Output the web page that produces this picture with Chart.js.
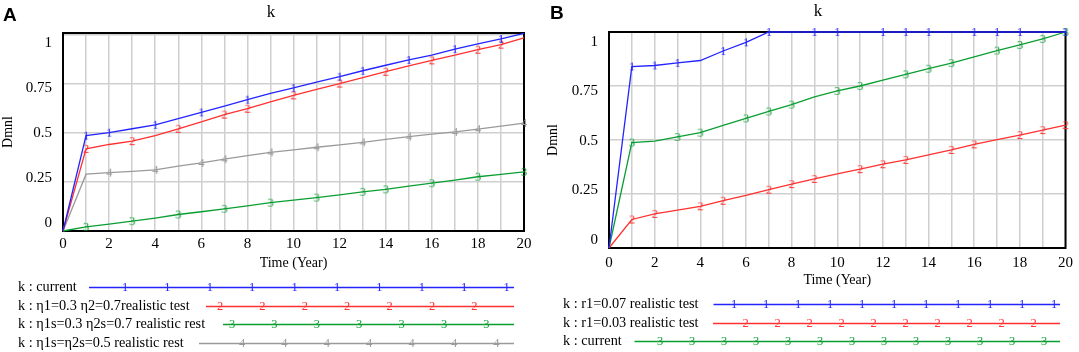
<!DOCTYPE html>
<html>
<head>
<meta charset="utf-8">
<script src="https://cdn.jsdelivr.net/npm/chart.js@4.4.1/dist/chart.umd.min.js"></script>
<style>
    html, body { margin: 0; padding: 0; background: #fff; }
    #wrap { position: relative; width: 1079px; height: 352px; }
    .panel { position: absolute; top: 0; height: 352px; }
    #pa { left: 0; width: 540px; }
    #pb { left: 540px; width: 539px; }
</style>
</head>
<body>
<div id="wrap">
    <div class="panel" id="pa"><canvas id="chartA"></canvas></div>
    <div class="panel" id="pb"><canvas id="chartB"></canvas></div>
</div>
<script>
// Time axis (Year)
const years = [0, 1, 2, 3, 4, 5, 6, 7, 8, 9, 10, 11, 12, 13, 14, 15, 16, 17, 18, 19, 20];
const yTicks = [0, 0.25, 0.5, 0.75, 1];

// Panel A series
const aCurrent = [0, 0.485, 0.50, 0.52, 0.54, 0.572, 0.603, 0.635, 0.668, 0.70, 0.728, 0.757, 0.785, 0.815, 0.843, 0.870, 0.895, 0.925, 0.952, 0.977, 1.005];
const aEta = [0, 0.418, 0.44, 0.457, 0.485, 0.52, 0.555, 0.592, 0.622, 0.657, 0.69, 0.72, 0.75, 0.78, 0.81, 0.84, 0.868, 0.895, 0.922, 0.948, 0.982];
const aEtaS = [0, 0.021, 0.035, 0.05, 0.066, 0.084, 0.098, 0.113, 0.128, 0.144, 0.157, 0.17, 0.184, 0.199, 0.212, 0.228, 0.243, 0.259, 0.276, 0.288, 0.301];
const aEqual = [0, 0.289, 0.297, 0.303, 0.311, 0.33, 0.346, 0.365, 0.383, 0.40, 0.413, 0.426, 0.438, 0.451, 0.466, 0.48, 0.493, 0.504, 0.518, 0.533, 0.549];

// Panel B series
const bR07 = [0, 0.84, 0.845, 0.857, 0.868, 0.912, 0.952, 1, 1, 1, 1, 1, 1, 1, 1, 1, 1, 1, 1, 1, 1];
const bR03 = [0, 0.132, 0.158, 0.175, 0.193, 0.219, 0.244, 0.27, 0.296, 0.32, 0.343, 0.365, 0.388, 0.408, 0.431, 0.454, 0.48, 0.502, 0.523, 0.546, 0.569];
const bCurrent = [0, 0.488, 0.495, 0.514, 0.534, 0.568, 0.60, 0.632, 0.664, 0.70, 0.727, 0.75, 0.777, 0.804, 0.83, 0.856, 0.885, 0.914, 0.94, 0.968, 1.0];

// Years where the numbered markers sit on each line
const aCurrentMarks = [1, 2, 4, 6, 8, 10, 12, 13, 15, 17, 19];
const aEtaMarks = [1, 3, 5, 7, 8, 10, 12, 14, 16, 18, 19];
const aEtaSMarks = [1, 3, 5, 7, 9, 11, 13, 14, 16, 18, 20];
const aEqualMarks = [2, 4, 6, 7, 9, 11, 13, 15, 17, 18, 20];
const bR07Marks = [1, 2, 3, 5, 6, 7, 9, 10, 12, 13, 14, 16, 17, 18, 20];
const bR03Marks = [1, 2, 4, 5, 7, 8, 9, 11, 12, 13, 15, 16, 18, 19, 20];
const bCurrentMarks = [1, 3, 4, 6, 7, 8, 10, 11, 13, 14, 15, 17, 18, 19, 20];

const SERIF = "'Liberation Serif', 'DejaVu Serif', serif";
const BLUE = '#2424ff';
const RED = '#ff3030';
const GREEN = '#0a9e32';
const GRAY = '#9a9a9a';
const GRID = '#cfcfcf';

// small digit glyphs used as point markers
const glyphCache = {};
function glyph(digit, color) {
    const key = digit + color;
    if (glyphCache[key]) return glyphCache[key];
    const c = document.createElement('canvas');
    c.width = 12; c.height = 14;
    const g = c.getContext('2d');
    g.fillStyle = color;
    g.font = '12.5px ' + SERIF;
    g.textAlign = 'center';
    g.textBaseline = 'middle';
    g.fillText(digit, 6, 7.5);
    glyphCache[key] = c;
    return c;
}

const framePlugin = {
    id: 'frame',
    beforeDatasetsDraw(chart) {
        const { ctx, chartArea: a } = chart;
        ctx.save();
        ctx.strokeStyle = '#000';
        ctx.lineWidth = 2;
        ctx.strokeRect(a.left, a.top, a.right - a.left, a.bottom - a.top);
        ctx.restore();
    }
};

const decorPlugin = {
    id: 'decor',
    afterDraw(chart, args, opts) {
        const ctx = chart.ctx;
        ctx.save();
        ctx.fillStyle = '#000';
        ctx.textBaseline = 'alphabetic';
        ctx.textAlign = 'left';
        ctx.font = 'bold 19px "Liberation Sans", Arial, sans-serif';
        ctx.fillText(opts.letter, opts.letterX, opts.letterY);

        ctx.font = '17px ' + SERIF;
        ctx.textAlign = 'center';
        ctx.textBaseline = 'middle';
        ctx.fillText('k', opts.titleX, opts.titleY);

        // legend rows
        chart.data.datasets.forEach((ds, i) => {
            const r = opts.rows[i];
            ctx.fillStyle = '#000';
            ctx.textAlign = 'left';
            ctx.font = '14.3px ' + SERIF;
            ctx.fillText(ds.label, opts.textX, r.y);
            ctx.strokeStyle = ds.borderColor;
            ctx.lineWidth = 1.4;
            ctx.beginPath();
            ctx.moveTo(r.start, r.y + 0.5);
            ctx.lineTo(opts.lineEnd, r.y + 0.5);
            ctx.stroke();
            ctx.fillStyle = ds.borderColor;
            ctx.textAlign = 'center';
            ctx.font = '12.5px ' + SERIF;
            for (let m = 0; m < r.count; m++) {
                ctx.fillText(String(i + 1), r.first + m * opts.spacing, r.y + 1);
            }
        });
        ctx.restore();
    }
};

function makeDataset(label, values, marks, digit, color) {
    return {
        label: label,
        data: years.map((t, i) => ({ x: t, y: values[i] })),
        borderColor: color,
        backgroundColor: color,
        borderWidth: 1.3,
        tension: 0,
        fill: false,
        clip: false,
        pointStyle: ctx => marks.includes(ctx.dataIndex) ? glyph(digit, color) : 'circle',
        pointRadius: ctx => marks.includes(ctx.dataIndex) ? 4 : 0,
        pointHoverRadius: 0
    };
}

function buildChart(id, datasets, p) {
    return new Chart(document.getElementById(id), {
        type: 'line',
        data: { datasets: datasets },
        options: {
            responsive: true,
            maintainAspectRatio: false,
            animation: false,
            events: [],
            layout: { padding: p.padding },
            plugins: {
                legend: { display: false },
                tooltip: { enabled: false },
                decor: p.decor
            },
            scales: {
                x: {
                    type: 'linear',
                    min: 0,
                    max: 20,
                    afterFit: s => { s.height = 40.4; },
                    ticks: {
                        stepSize: 1,
                        autoSkip: false,
                        maxRotation: 0,
                        padding: p.xPad,
                        color: '#000',
                        font: { family: SERIF, size: 15 },
                        callback: v => (v % 2 === 0 ? String(v) : '')
                    },
                    grid: { color: GRID, lineWidth: 1.5, drawTicks: false },
                    border: { display: false },
                    title: {
                        display: true,
                        text: 'Time (Year)',
                        color: '#000',
                        font: { family: SERIF, size: 14 },
                        padding: { top: 0, bottom: 0 }
                    }
                },
                y: {
                    type: 'linear',
                    position: 'left',
                    weight: 0,
                    min: 0,
                    max: p.yMax,
                    afterFit: s => { s.width = 0; },
                    ticks: { display: false, stepSize: 0.25, includeBounds: false },
                    grid: { color: GRID, lineWidth: 1.5, drawTicks: false },
                    border: { display: false }
                },
                // label-only axis: Vensim spreads its value labels a bit inside the grid lines
                yl: {
                    type: 'linear',
                    position: 'left',
                    weight: 1,
                    min: p.labelMin,
                    max: p.labelMax,
                    afterFit: s => { s.width = p.yWidth; },
                    afterBuildTicks: s => { s.ticks = yTicks.map(v => ({ value: v })); },
                    ticks: {
                        padding: 11,
                        color: '#000',
                        font: { family: SERIF, size: 15 },
                        callback: v => String(v)
                    },
                    grid: { display: false, drawTicks: false },
                    border: { display: false },
                    title: {
                        display: true,
                        text: 'Dmnl',
                        color: '#000',
                        font: { family: SERIF, size: 14 },
                        padding: { top: 0, bottom: 0 }
                    }
                }
            }
        },
        plugins: [framePlugin, decorPlugin]
    });
}

buildChart('chartA', [
    makeDataset('k : current', aCurrent, aCurrentMarks, '1', BLUE),
    makeDataset('k : \u03b71=0.3 \u03b72=0.7realistic test', aEta, aEtaMarks, '2', RED),
    makeDataset('k : \u03b71s=0.3 \u03b72s=0.7 realistic rest', aEtaS, aEtaSMarks, '3', GREEN),
    makeDataset('k : \u03b71s=\u03b72s=0.5 realistic rest', aEqual, aEqualMarks, '4', GRAY)
], {
    padding: { left: 0, top: 33, right: 16, bottom: 80.6 },
    yMax: 1.007,
    yWidth: 63,
    labelMin: -0.0444,
    labelMax: 1.0556,
    xPad: 4,
    decor: {
        letter: 'A', letterX: 3, letterY: 21,
        titleX: 271, titleY: 13,
        textX: 18, lineEnd: 514, spacing: 42.4,
        rows: [
            { y: 287, start: 89, first: 125, count: 10 },
            { y: 306, start: 206, first: 220, count: 7 },
            { y: 324, start: 223, first: 232, count: 7 },
            { y: 343, start: 199, first: 242, count: 7 }
        ]
    }
});

buildChart('chartB', [
    makeDataset('k : r1=0.07 realistic test', bR07, bR07Marks, '1', BLUE),
    makeDataset('k : r1=0.03 realistic test', bR03, bR03Marks, '2', RED),
    makeDataset('k : current', bCurrent, bCurrentMarks, '3', GREEN)
], {
    padding: { left: 5, top: 32, right: 10, bottom: 63.6 },
    yMax: 1,
    yWidth: 64,
    labelMin: -0.0404,
    labelMax: 1.0505,
    xPad: 6,
    decor: {
        letter: 'B', letterX: 10, letterY: 19,
        titleX: 278, titleY: 12,
        textX: 23, lineEnd: 520, spacing: 32,
        rows: [
            { y: 304, start: 173.5, first: 194, count: 11 },
            { y: 323, start: 173, first: 205.5, count: 10 },
            { y: 341, start: 94.5, first: 120, count: 13 }
        ]
    }
});
</script>
</body>
</html>
